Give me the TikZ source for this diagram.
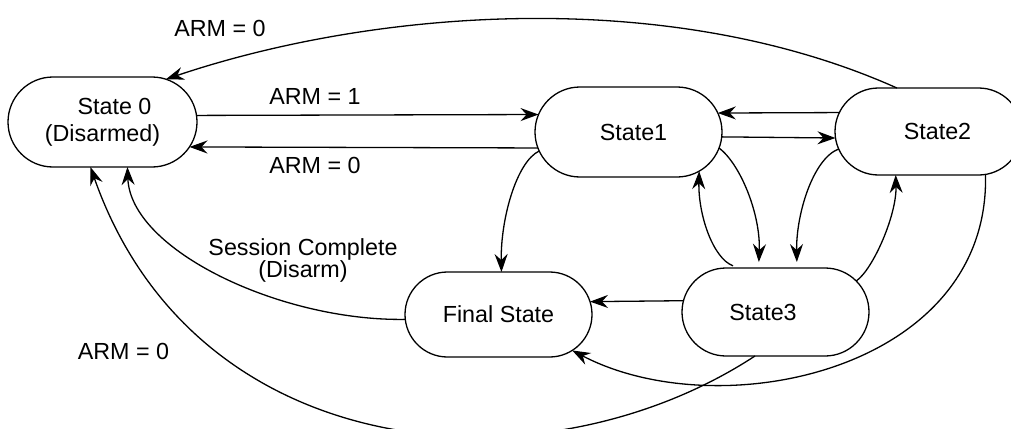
\documentclass[tikz,border=0pt]{standalone}
\usepackage{fontspec}
\setmainfont{Liberation Sans}
\usetikzlibrary{arrows.meta,shapes.misc}
\begin{document}
\begin{tikzpicture}[x=1pt,y=-1pt,
  every node/.style={font=\fontsize{23.3}{27}\selectfont},
  state/.style={draw,line width=1.3pt,rounded rectangle,inner sep=0pt,outer sep=0pt,minimum width=187pt},
  arr/.style={line width=1.3pt,-{Stealth[length=18pt,width=13pt,inset=6pt]}},
  lbl/.style={inner sep=0pt}]
\useasboundingbox (0,0) rectangle (1011,428);
% states
\node[state,minimum width=189pt,minimum height=90pt,align=center] (s0) at (102.5,122) {\hspace*{24pt}State 0\\(Disarmed)};
\node[state,minimum height=90pt] (s1) at (628.5,132) {\hspace*{10pt}State1};
\node[state,minimum height=87pt] (s2) at (928.5,131.5) {\hspace*{18pt}State2};
\node[state,minimum height=85pt] (fin) at (498.5,314.5) {Final State};
\node[state,minimum height=88pt] (s3) at (775.5,312) {State3\hspace*{25pt}};
% labels
\node[lbl] (l1) at (220,28.5) {ARM = 0};
\node[lbl] (l2) at (315,96.5) {ARM = 1};
\node[lbl] (l3) at (315,165.5) {ARM = 0};
\node[lbl,align=center] (l4) at (303,260) {Session Complete\\[-5pt](Disarm)};
\node[lbl] (l5) at (123.5,351.5) {ARM = 0};
% connectors
\draw[arr] (s2.126.4) .. controls +(-228,-102) and +(209,-70.4) .. (s0.34.6);
\draw[arr] (s0.4.26) -- (s1.169.3);
\draw[arr] (s1.190) -- (s0.-16.8);
\draw[arr] (s2.168.3) -- (s1.12);
\draw[arr] (s1.-3.7) -- (s2.184);
\draw[arr,shorten >=6pt] (s1.-10) .. controls +(22,17) and +(2,-53) .. (s3.111.7);
\draw[arr,shorten <=6pt] (s3.130.4) .. controls +(-26,-10) and +(-1,43) .. (s1.-29.8);
\draw[arr,shorten >=6pt] (s2.-169.6) .. controls +(-26,10) and +(-1,-53) .. (s3.64);
\draw[arr] (s3.21.9) .. controls +(17,-12) and +(1,40) .. (s2.-127.6);
\draw[arr] (s1.192.5) .. controls +(-23,11) and +(-1,-52) .. (fin.86.6);
\draw[arr] (s3.173.2) -- (fin.8.41);
\draw[arr] (s2.-37.3) .. controls +(5,195.5) and +(148,77.5) .. (fin.-26.1);
\draw[arr] (s3.-115) .. controls +(-210,137.5) and +(106,302) .. (s0.-105.5);
\draw[arr] (fin.-177.9) .. controls +(-125,2) and +(3,83) .. (s0.-61.4);
\end{tikzpicture}
\end{document}
